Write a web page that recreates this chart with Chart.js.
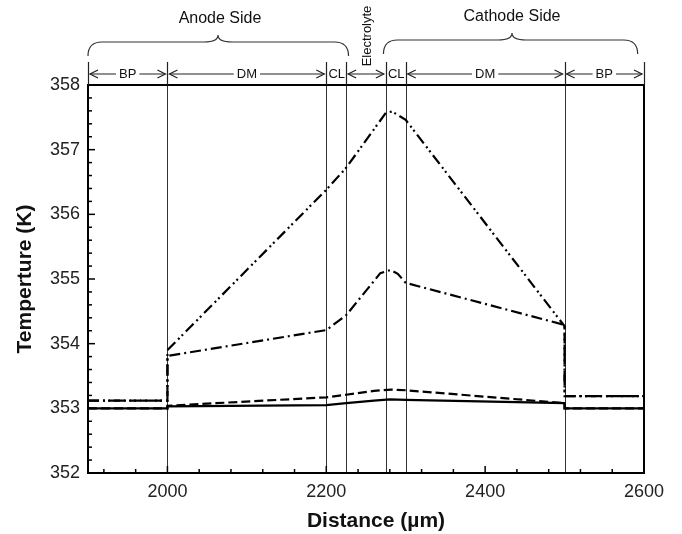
<!DOCTYPE html>
<html>
<head>
<meta charset="utf-8">
<title>Temperature profile</title>
<script src="https://cdn.jsdelivr.net/npm/chart.js@4.4.1/dist/chart.umd.min.js"></script>
<style>
  html, body { margin: 0; padding: 0; background: #fff; }
  canvas { display: block; }
</style>
</head>
<body>
<canvas id="tempChart" width="682" height="534"></canvas>
<script>
// Data
const xTickVals = [2000, 2200, 2400, 2600];
const yTickVals = [352, 353, 354, 355, 356, 357, 358];
const layerEdges = [1900, 2000, 2200, 2225, 2275, 2300, 2500, 2600];
const layerNames = ['BP', 'DM', 'CL', '', 'CL', 'DM', 'BP'];

const solidDist = [1900, 2000, 2000, 2200, 2225, 2260, 2280, 2300, 2500, 2500, 2600];
const solidTemp = [353.0, 353.0, 353.03, 353.05, 353.08, 353.12, 353.14, 353.13, 353.08, 353.0, 353.0];

const dashDist = [1900, 2000, 2000, 2200, 2225, 2260, 2282, 2300, 2500, 2500, 2600];
const dashTemp = [353.0, 353.0, 353.04, 353.17, 353.21, 353.27, 353.29, 353.28, 353.08, 353.0, 353.0];

const dashDotDist = [1900, 2000, 2000, 2200, 2225, 2268, 2281, 2290, 2300, 2500, 2500, 2600];
const dashDotTemp = [353.12, 353.12, 353.81, 354.21, 354.44, 355.09, 355.14, 355.08, 354.94, 354.29, 353.19, 353.19];

const dashDot2Dist = [1900, 2000, 2000, 2200, 2225, 2275, 2283, 2300, 2500, 2500, 2600];
const dashDot2Temp = [353.12, 353.12, 353.90, 356.38, 356.72, 357.57, 357.59, 357.46, 354.27, 353.19, 353.19];

const FONT = "'Liberation Sans', Arial, sans-serif";

function toPoints(xs, ys) { return xs.map((x, i) => ({ x: x, y: ys[i] })); }

function series(xs, ys, dash) {
    return {
        data: toPoints(xs, ys),
        borderColor: '#000', borderWidth: 2.2, borderDash: dash,
        pointRadius: 0, tension: 0, fill: false
    };
}

// arrow with open head at x
function arrowHead(ctx, x, y, dir) {
    ctx.beginPath();
    ctx.moveTo(x + dir * 8, y - 4);
    ctx.lineTo(x, y);
    ctx.lineTo(x + dir * 8, y + 4);
    ctx.stroke();
}

function brace(ctx, x1, x2, xc, yEnd, yMid, yTip) {
    const r = 14;
    ctx.beginPath();
    ctx.moveTo(x1, yEnd);
    ctx.quadraticCurveTo(x1, yMid, x1 + r, yMid);
    ctx.lineTo(xc - r, yMid);
    ctx.quadraticCurveTo(xc, yMid, xc, yTip);
    ctx.quadraticCurveTo(xc, yMid, xc + r, yMid);
    ctx.lineTo(x2 - r, yMid);
    ctx.quadraticCurveTo(x2, yMid, x2, yEnd);
    ctx.stroke();
}

const decorPlugin = {
    id: 'decor',
    beforeDatasetsDraw(chart) {
        const { ctx, chartArea: a, scales: { x } } = chart;
        ctx.save();
        ctx.strokeStyle = '#333';
        ctx.lineWidth = 1;
        layerEdges.slice(1, -1).forEach(v => {
            const px = Math.round(x.getPixelForValue(v)) + 0.5;
            ctx.beginPath(); ctx.moveTo(px, a.top); ctx.lineTo(px, a.bottom); ctx.stroke();
        });
        ctx.restore();
    },
    afterDraw(chart) {
        const { ctx, chartArea: a, scales: { x, y } } = chart;
        ctx.save();
        ctx.strokeStyle = '#000';
        ctx.fillStyle = '#111';

        // frame
        ctx.lineWidth = 2;
        ctx.strokeRect(a.left, a.top, a.right - a.left, a.bottom - a.top);

        // inward ticks
        ctx.lineWidth = 1.5;
        for (let v = 1920; v <= 2600; v += 40) {
            const px = x.getPixelForValue(v);
            const len = xTickVals.includes(v) ? 7 : 4;
            ctx.beginPath(); ctx.moveTo(px, a.bottom); ctx.lineTo(px, a.bottom - len); ctx.stroke();
        }
        for (let i = 1; i < 30; i++) {
            const py = y.getPixelForValue(352 + i * 0.2);
            const len = i % 5 === 0 ? 7 : 4;
            ctx.beginPath(); ctx.moveTo(a.left, py); ctx.lineTo(a.left + len, py); ctx.stroke();
        }

        // axis titles
        ctx.font = 'bold 21px ' + FONT;
        ctx.textAlign = 'center';
        ctx.textBaseline = 'middle';
        ctx.fillText('Distance (\u00b5m)', 376, 521);
        ctx.save();
        ctx.translate(25, (a.top + a.bottom) / 2);
        ctx.rotate(-Math.PI / 2);
        ctx.fillText('Temperture (K)', 0, 0);
        ctx.restore();

        // layer delimiters and labels above the frame
        const arrowY = 74;
        ctx.strokeStyle = '#222';
        ctx.lineWidth = 1.2;
        layerEdges.forEach(v => {
            const px = Math.round(x.getPixelForValue(v)) + 0.5;
            ctx.beginPath(); ctx.moveTo(px, 62); ctx.lineTo(px, a.top); ctx.stroke();
        });
        ctx.font = '13px ' + FONT;
        for (let i = 0; i < layerNames.length; i++) {
            const l = x.getPixelForValue(layerEdges[i]);
            const r = x.getPixelForValue(layerEdges[i + 1]);
            const name = layerNames[i];
            const cx = (l + r) / 2;
            if (name === 'CL') {
                ctx.fillText(name, cx + 0.5, arrowY);
                continue;
            }
            if (name === '') {
                ctx.beginPath(); ctx.moveTo(l + 2, arrowY); ctx.lineTo(r - 2, arrowY); ctx.stroke();
                arrowHead(ctx, l + 2, arrowY, 1);
                arrowHead(ctx, r - 2, arrowY, -1);
                continue;
            }
            const w = ctx.measureText(name).width;
            ctx.fillText(name, cx, arrowY);
            ctx.beginPath();
            ctx.moveTo(l + 2, arrowY); ctx.lineTo(cx - w / 2 - 3, arrowY);
            ctx.moveTo(cx + w / 2 + 3, arrowY); ctx.lineTo(r - 2, arrowY);
            ctx.stroke();
            arrowHead(ctx, l + 2, arrowY, 1);
            arrowHead(ctx, r - 2, arrowY, -1);
        }

        // Electrolyte (vertical)
        const ex = (x.getPixelForValue(2225) + x.getPixelForValue(2275)) / 2;
        ctx.save();
        ctx.translate(ex + 1, 36);
        ctx.rotate(-Math.PI / 2);
        ctx.fillText('Electrolyte', 0, 0);
        ctx.restore();

        // side braces
        ctx.lineWidth = 1.2;
        ctx.strokeStyle = '#333';
        const ax1 = x.getPixelForValue(1900), ax2 = x.getPixelForValue(2228);
        brace(ctx, ax1, ax2, 218, 56, 42, 35);
        const cx1 = x.getPixelForValue(2272), cx2 = x.getPixelForValue(2592);
        brace(ctx, cx1, cx2, 512, 54, 40, 33);
        ctx.font = '16px ' + FONT;
        ctx.fillText('Anode Side', 220, 19);
        ctx.fillText('Cathode Side', 512, 17);

        ctx.restore();
    }
};

new Chart(document.getElementById('tempChart'), {
    type: 'line',
    data: {
        datasets: [
            series(solidDist, solidTemp, []),
            series(dashDist, dashTemp, [9, 4]),
            series(dashDotDist, dashDotTemp, [11, 4, 2, 4]),
            series(dashDot2Dist, dashDot2Temp, [11, 4, 2, 3, 2, 4])
        ]
    },
    options: {
        responsive: false,
        animation: false,
        layout: { padding: { top: 85, right: 38, left: 0, bottom: 0 } },
        plugins: { legend: { display: false }, tooltip: { enabled: false } },
        scales: {
            x: {
                type: 'linear', min: 1900, max: 2600,
                afterBuildTicks: s => { s.ticks = xTickVals.map(v => ({ value: v })); },
                afterFit: s => { s.height = 61; },
                grid: { display: false, drawTicks: false },
                border: { display: false },
                ticks: { autoSkip: false, maxRotation: 0, padding: 8, color: '#222', font: { family: FONT, size: 18 }, callback: v => String(v) }
            },
            y: {
                type: 'linear', min: 352, max: 358,
                afterBuildTicks: s => { s.ticks = yTickVals.map(v => ({ value: v })); },
                afterFit: s => { s.width = 88; },
                grid: { display: false, drawTicks: false },
                border: { display: false },
                ticks: { autoSkip: false, padding: 8, color: '#222', font: { family: FONT, size: 18 }, callback: v => String(v) }
            }
        }
    },
    plugins: [decorPlugin]
});
</script>
</body>
</html>
